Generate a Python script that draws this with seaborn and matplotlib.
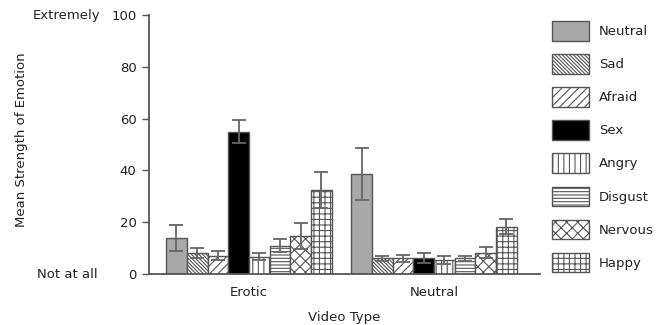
import matplotlib
matplotlib.use("Agg")
import matplotlib.pyplot as plt
import matplotlib.transforms as mtransforms
from matplotlib.container import BarContainer
from matplotlib.patches import Patch
import numpy as np
import pandas as pd
import seaborn as sns

# Video types on the x axis and the rated emotions (one bar each)
video_types = ["Erotic", "Neutral"]
emotions = ["Neutral", "Sad", "Afraid", "Sex", "Angry", "Disgust", "Nervous", "Happy"]

# Mean ratings and error (half-length) per emotion for each video type
erotic_means = [14, 8, 7, 55, 6.7, 11, 14.5, 32.5]
erotic_err = [5, 2, 1.7, 4.5, 1.4, 2.5, 5, 7]
neutral_means = [38.5, 6, 6, 6.2, 5.4, 6, 8.3, 18.3]
neutral_err = [10, 0.8, 1.4, 2, 1.4, 1, 2, 2.8]

y_ticks = [0, 20, 40, 60, 80, 100]

sns.set_style("white")
plt.rcParams["font.family"] = ["DejaVu Sans"]
plt.rcParams["hatch.linewidth"] = 0.8

text_col = "#222222"
line_col = "#555555"

# Fill colour and hatch pattern for every emotion
fills = ["#a8a8a8", "white", "white", "black", "white", "white", "white", "white"]
hatches = ["", "\\" * 9, "////", "", "|||", "-----", "xxx", "+++"]

df = pd.DataFrame({
    "Video Type": np.repeat(video_types, len(emotions)),
    "Emotion": emotions * len(video_types),
    "value": erotic_means + neutral_means,
    "err": erotic_err + neutral_err,
})

fig = plt.figure(figsize=(6.56, 3.25), dpi=100)
ax = fig.add_axes([149 / 656, 51 / 325, 391 / 656, 259 / 325])

sns.barplot(data=df, x="Video Type", y="value", hue="Emotion",
            order=video_types, hue_order=emotions, width=0.895,
            errorbar=None, legend=False, ax=ax, saturation=1)

bar_groups = [c for c in ax.containers if isinstance(c, BarContainer)]

# Style each emotion's bars and add its error bars at the bar centres
for i, cont in enumerate(bar_groups):
    xs, ys, es = [], [], []
    for j, bar in enumerate(cont.patches):
        bar.set_facecolor(fills[i])
        bar.set_edgecolor(line_col)
        bar.set_linewidth(1.0)
        bar.set_hatch(hatches[i])
        xs.append(bar.get_x() + bar.get_width() / 2)
        row = df[(df["Emotion"] == emotions[i]) & (df["Video Type"] == video_types[j])]
        ys.append(float(row["value"].iloc[0]))
        es.append(float(row["err"].iloc[0]))
    ax.errorbar(xs, ys, yerr=es, fmt="none", ecolor="#666666",
                elinewidth=1.3, capsize=4.7, capthick=1.3, zorder=5)

ax.set_xlim(-0.54, 1.573)
ax.set_ylim(0, 100)
ax.set_yticks(y_ticks)
ax.set_yticklabels([str(t) for t in y_ticks])

for side in ["top", "right"]:
    ax.spines[side].set_visible(False)
for side in ["left", "bottom"]:
    ax.spines[side].set_color(line_col)
    ax.spines[side].set_linewidth(1.3)

ax.tick_params(axis="y", which="both", left=True, length=5, width=1.0,
               color=line_col, labelsize=9.5, labelcolor=text_col, pad=4)
ax.tick_params(axis="x", bottom=False, length=0, labelsize=9.5,
               labelcolor=text_col, pad=9)

ax.set_xlabel("Video Type", fontsize=9.5, color=text_col, labelpad=8)
ax.set_ylabel("Mean Strength of Emotion", fontsize=9.5, color=text_col)
ax.yaxis.set_label_coords(-0.309, 0.52)

# Verbal anchors for the ends of the rating scale
trans = mtransforms.blended_transform_factory(fig.transFigure, ax.transData)
ax.text(100 / 656, 100, "Extremely", transform=trans, ha="right", va="center",
        fontsize=9.5, color=text_col)
ax.text(98 / 656, 0, "Not at all", transform=trans, ha="right", va="center",
        fontsize=9.5, color=text_col)

handles = [Patch(facecolor=fills[i], edgecolor=line_col, hatch=hatches[i],
                 linewidth=1.0, label=emotions[i]) for i in range(len(emotions))]
fig.legend(handles=handles, loc="upper left",
           bbox_to_anchor=(552 / 656, 1 - 21 / 325), bbox_transform=fig.transFigure,
           frameon=False, fontsize=9.5, labelcolor=text_col,
           handlelength=2.8, handleheight=1.9, labelspacing=1.03,
           handletextpad=0.76, borderpad=0, borderaxespad=0)

fig.savefig("out.png", dpi=100)
